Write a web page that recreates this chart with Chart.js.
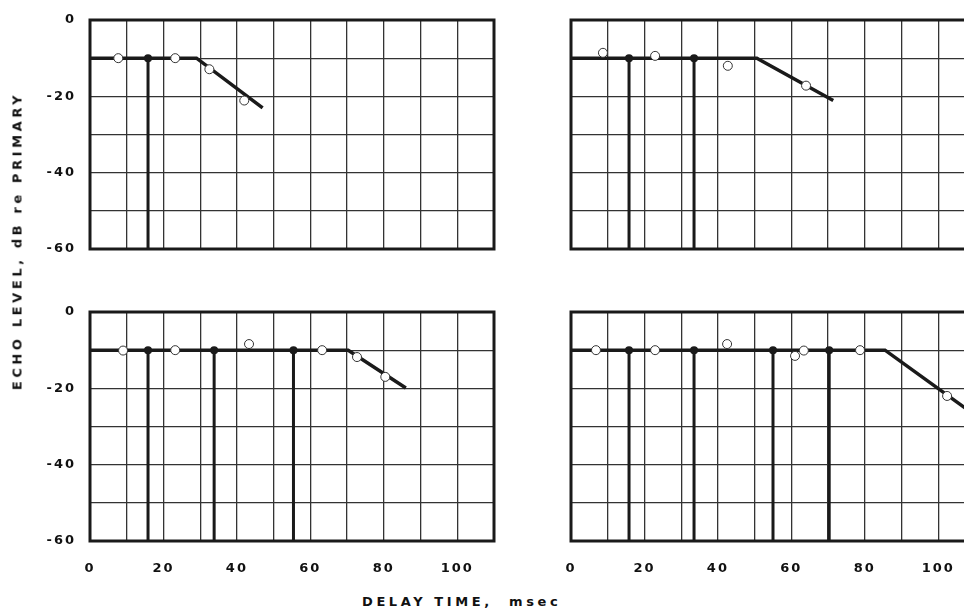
<!DOCTYPE html>
<html>
<head>
<meta charset="utf-8">
<script src="https://cdn.jsdelivr.net/npm/chart.js@4"></script>
<style>
    html, body { margin: 0; padding: 0; background: #fff; overflow: hidden; }
    #wrap { position: relative; width: 964px; height: 613px; overflow: hidden; }
    canvas { position: absolute; }
    .title { position: absolute; white-space: pre; font: bold 13px "DejaVu Sans", sans-serif; color: #111; }
    #ytitle { left: 17px; top: 241px; transform: translate(-50%, -50%) rotate(-90deg); letter-spacing: 3.6px; }
    #xtitle { left: 362px; top: 594px; letter-spacing: 3.6px; }
</style>
</head>
<body>
<div id="wrap">
    <canvas id="panel-a" width="500" height="259" style="left:0;top:0"></canvas>
    <canvas id="panel-b" width="430" height="259" style="left:561px;top:0"></canvas>
    <canvas id="panel-c" width="500" height="299" style="left:0;top:292px"></canvas>
    <canvas id="panel-d" width="430" height="299" style="left:561px;top:292px"></canvas>
    <div class="title" id="ytitle">ECHO LEVEL, dB re PRIMARY</div>
    <div class="title" id="xtitle">DELAY TIME,  msec</div>
</div>
<script>
// tick labels
const xTicks = [0, 20, 40, 60, 80, 100];
const yTicks = [0, -20, -40, -60];

// panel A (top left)
const aEnvX = [0, 29, 47];
const aEnvY = [-10, -10, -23];
const aEchoX = [15.8];
const aObsX = [7.7, 23.2, 32.5, 42.0];
const aObsY = [-10, -10, -12.9, -21.1];

// panel B (top right)
const bEnvX = [0, 50.6, 71.4];
const bEnvY = [-10, -10, -21.1];
const bEchoX = [15.8, 33.5];
const bObsX = [8.7, 22.9, 42.7, 64.0];
const bObsY = [-8.6, -9.4, -12.0, -17.2];

// panel C (bottom left)
const cEnvX = [0, 70.3, 86.0];
const cEnvY = [-10, -10, -19.9];
const cEchoX = [15.8, 33.8, 55.4];
const cObsX = [9.0, 23.2, 43.3, 63.2, 72.7, 80.4];
const cObsY = [-10.1, -10, -8.4, -10, -11.8, -17.0];

// panel D (bottom right)
const dEnvX = [0, 85.5, 110];
const dEnvY = [-10, -10, -27];
const dEchoX = [15.8, 33.5, 55.0, 70.3];
const dObsX = [6.8, 22.9, 42.5, 61.0, 63.4, 78.7, 102.4];
const dObsY = [-10, -10, -8.4, -11.5, -10.1, -10, -22.0];

const echoTop = -10;
const echoBottom = -60;
const INK = '#1a1a1a';

const framePlugin = {
    id: 'frame',
    beforeDraw(chart) {
        chart.ctx.letterSpacing = '2px';
    },
    beforeDatasetsDraw(chart) {
        const { ctx, chartArea: a } = chart;
        ctx.save();
        ctx.strokeStyle = INK;
        ctx.lineWidth = 3;
        ctx.strokeRect(a.left, a.top, a.right - a.left, a.bottom - a.top);
        ctx.restore();
    }
};

function toPoints(xs, ys) {
    return xs.map((x, i) => ({ x: x, y: ys[i] }));
}

// labels may hang outside the plot, don't let them shrink it
function noPadding(scale) {
    scale.paddingLeft = 0;
    scale.paddingRight = 0;
    scale.paddingTop = 0;
    scale.paddingBottom = 0;
}

function makePanel(id, envX, envY, echoX, obsX, obsY, showX, showY, yWidth, rightPad) {
    const datasets = [];
    datasets.push({
        data: toPoints(obsX, obsY),
        pointRadius: 4.5,
        pointBackgroundColor: '#fff',
        pointBorderColor: '#333',
        pointBorderWidth: 1,
        showLine: false
    });
    echoX.forEach(x => {
        datasets.push({
            data: [{ x: x, y: echoTop }, { x: x, y: echoBottom }],
            showLine: true,
            borderColor: INK,
            borderWidth: 3,
            pointRadius: [4, 0],
            pointBackgroundColor: INK,
            pointBorderWidth: 0
        });
    });
    datasets.push({
        data: toPoints(envX, envY),
        showLine: true,
        borderColor: INK,
        borderWidth: 3.5,
        pointRadius: 0,
        tension: 0
    });

    new Chart(document.getElementById(id), {
        type: 'scatter',
        data: { datasets: datasets },
        options: {
            responsive: false,
            animation: false,
            devicePixelRatio: 1,
            layout: { padding: { top: 20, right: rightPad, left: 0, bottom: 0 } },
            plugins: { legend: { display: false }, tooltip: { enabled: false } },
            scales: {
                x: {
                    type: 'linear',
                    min: 0,
                    max: 110,
                    grid: { color: '#333', lineWidth: 1.3, drawTicks: false },
                    border: { display: false },
                    ticks: {
                        display: showX,
                        stepSize: 10,
                        padding: 20,
                        color: '#111',
                        font: { family: 'DejaVu Sans', size: 13, weight: 'bold' },
                        maxRotation: 0,
                        autoSkip: false,
                        callback: v => xTicks.includes(v) ? String(v) : ''
                    },
                    afterFit(scale) {
                        scale.height = showX ? 50 : 10;
                        noPadding(scale);
                    }
                },
                y: {
                    min: -60,
                    max: 0,
                    grid: { color: '#333', lineWidth: 1.3, drawTicks: false },
                    border: { display: false },
                    ticks: {
                        display: showY,
                        stepSize: 10,
                        padding: 14,
                        color: '#111',
                        font: { family: 'DejaVu Sans', size: 13, weight: 'bold' },
                        autoSkip: false,
                        callback: v => yTicks.includes(v) ? String(v) : ''
                    },
                    afterFit(scale) {
                        scale.width = yWidth;
                        noPadding(scale);
                    }
                }
            }
        },
        plugins: [framePlugin]
    });
}

makePanel('panel-a', aEnvX, aEnvY, aEchoX, aObsX, aObsY, false, true, 90, 6);
makePanel('panel-b', bEnvX, bEnvY, bEchoX, bObsX, bObsY, false, false, 10, 16);
makePanel('panel-c', cEnvX, cEnvY, cEchoX, cObsX, cObsY, true, true, 90, 6);
makePanel('panel-d', dEnvX, dEnvY, dEchoX, dObsX, dObsY, true, false, 10, 16);
</script>
</body>
</html>
